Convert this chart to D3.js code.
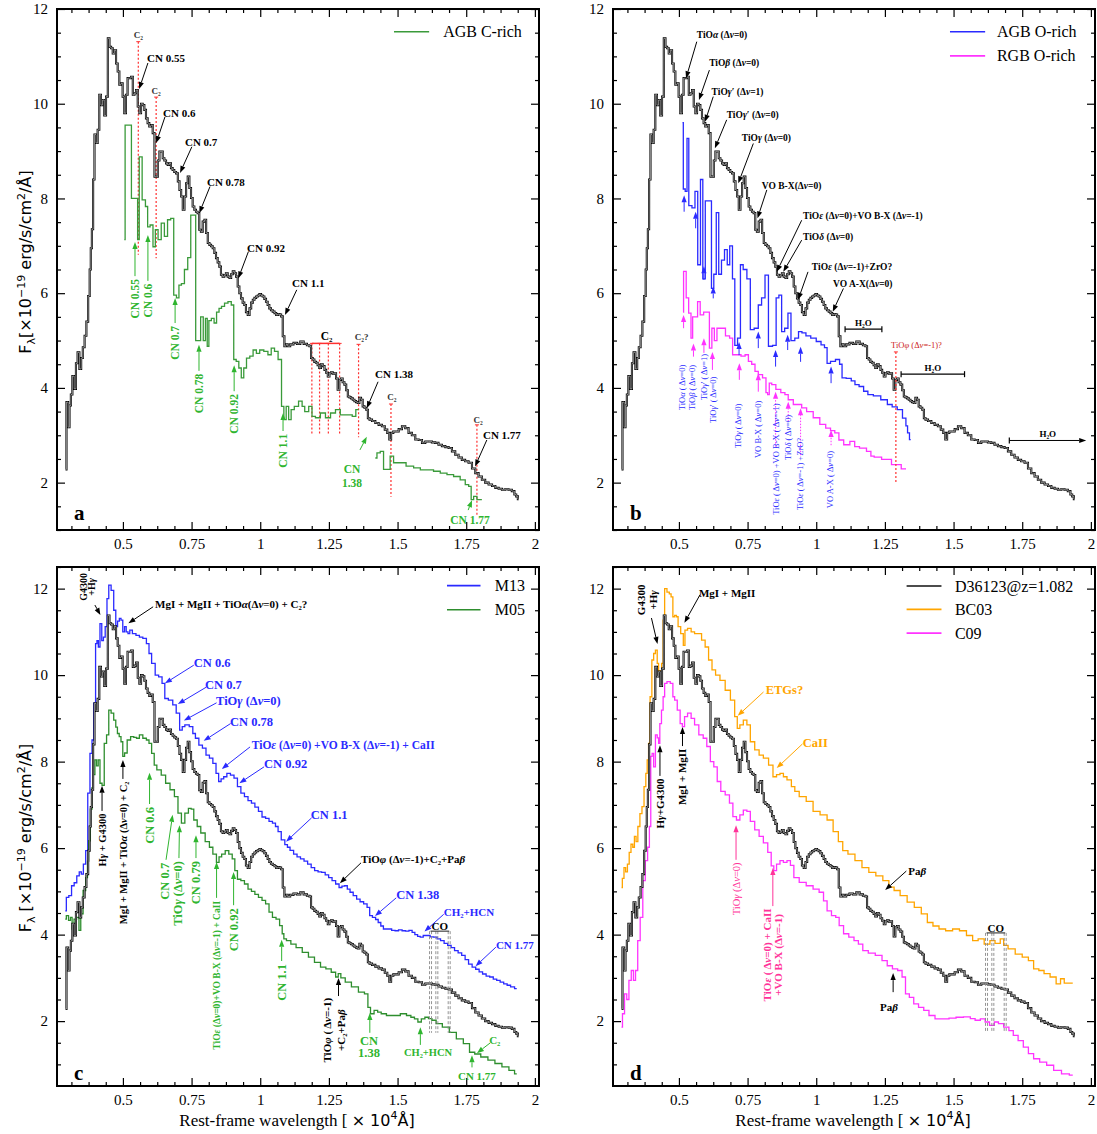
<!DOCTYPE html>
<html>
<head>
<meta charset="utf-8">
<script src="https://cdn.jsdelivr.net/npm/d3@7"></script>
<style>
  body { margin: 0; background: #fff; }
  svg { display: block; }
</style>
</head>
<body>
<script>
// Tick labels
const xTickVals = [0.5, 0.75, 1, 1.25, 1.5, 1.75, 2];
const yTickVals = [2, 4, 6, 8, 10, 12];

// Observed spectrum D36123 @ z=1.082, [wavelength (1e4 A), flux (1e-19)]
const d36123 = [[0.291,2.28],[0.298,3.7],[0.303,3.17],[0.308,3.63],[0.313,3.86],[0.319,4.25],[0.326,3.98],[0.332,4.52],[0.338,4.75],[0.345,4.4],[0.351,4.63],[0.357,4.86],[0.364,5.1],[0.370,5.4],[0.377,5.94],[0.381,6.5],[0.385,6.95],[0.389,7.35],[0.394,8.4],[0.399,9.35],[0.405,9.17],[0.411,9.45],[0.417,10.19],[0.423,9.97],[0.429,10.08],[0.435,9.75],[0.442,10.15],[0.448,11.38],[0.454,11.2],[0.460,11.17],[0.466,11.06],[0.472,11.13],[0.478,10.85],[0.484,10.68],[0.490,10.4],[0.496,10.43],[0.502,10.15],[0.508,9.8],[0.514,10.19],[0.520,10.54],[0.527,10.54],[0.533,10.57],[0.539,10.19],[0.545,10.22],[0.551,10.29],[0.557,9.94],[0.563,9.8],[0.569,10.0],[0.575,9.97],[0.581,9.87],[0.587,9.69],[0.593,9.59],[0.599,9.52],[0.605,9.55],[0.612,9.38],[0.618,8.46],[0.624,8.46],[0.630,8.8],[0.636,8.99],[0.642,8.99],[0.648,8.85],[0.654,8.8],[0.660,8.74],[0.666,8.71],[0.672,8.74],[0.678,8.64],[0.684,8.6],[0.690,8.56],[0.697,8.53],[0.703,8.36],[0.709,8.18],[0.715,8.04],[0.721,7.76],[0.727,8.04],[0.733,8.32],[0.739,8.46],[0.745,8.22],[0.751,8.01],[0.757,7.83],[0.763,7.76],[0.769,7.72],[0.775,7.69],[0.781,7.34],[0.787,7.3],[0.794,7.51],[0.800,7.55],[0.806,7.27],[0.812,7.06],[0.818,7.02],[0.824,6.99],[0.830,6.95],[0.836,6.85],[0.842,6.74],[0.848,6.65],[0.854,6.56],[0.860,6.39],[0.866,6.35],[0.872,6.38],[0.878,6.42],[0.885,6.35],[0.891,6.32],[0.897,6.4],[0.903,6.46],[0.909,6.42],[0.915,6.35],[0.921,6.14],[0.927,6.0],[0.933,5.89],[0.939,5.8],[0.945,5.75],[0.951,5.6],[0.958,5.54],[0.964,5.68],[0.970,5.8],[0.976,5.86],[0.982,5.9],[0.988,5.93],[0.994,5.95],[1.000,5.98],[1.006,5.95],[1.012,5.93],[1.018,5.88],[1.024,5.82],[1.030,5.75],[1.036,5.68],[1.042,5.64],[1.049,5.61],[1.055,5.58],[1.061,5.54],[1.067,5.56],[1.073,5.55],[1.079,5.51],[1.085,5.09],[1.091,4.88],[1.097,4.92],[1.103,4.88],[1.115,4.92],[1.127,4.95],[1.140,4.93],[1.152,4.98],[1.164,4.93],[1.176,4.9],[1.182,4.88],[1.188,4.63],[1.194,4.6],[1.200,4.55],[1.206,4.53],[1.212,4.48],[1.218,4.42],[1.224,4.5],[1.231,4.46],[1.237,4.38],[1.243,4.32],[1.249,4.24],[1.255,4.31],[1.261,4.33],[1.267,4.3],[1.273,4.31],[1.279,4.2],[1.285,3.96],[1.291,4.17],[1.297,4.2],[1.303,4.12],[1.310,4.07],[1.316,3.95],[1.322,3.82],[1.328,3.8],[1.334,3.78],[1.340,3.75],[1.346,3.72],[1.352,3.7],[1.358,3.68],[1.364,3.79],[1.370,3.75],[1.376,3.61],[1.383,3.58],[1.389,3.54],[1.395,3.36],[1.401,3.33],[1.413,3.3],[1.425,3.26],[1.437,3.22],[1.449,3.19],[1.458,3.12],[1.467,3.05],[1.473,2.91],[1.480,3.05],[1.489,3.08],[1.498,3.08],[1.510,3.13],[1.522,3.19],[1.534,3.15],[1.546,3.05],[1.558,3.0],[1.571,2.91],[1.583,2.9],[1.595,2.84],[1.607,2.87],[1.619,2.87],[1.631,2.85],[1.643,2.84],[1.655,2.8],[1.668,2.77],[1.680,2.75],[1.692,2.73],[1.704,2.66],[1.716,2.59],[1.728,2.53],[1.740,2.48],[1.752,2.45],[1.765,2.42],[1.777,2.3],[1.789,2.2],[1.801,2.13],[1.813,2.06],[1.825,2.0],[1.838,1.96],[1.850,1.93],[1.862,1.89],[1.874,1.87],[1.886,1.85],[1.898,1.86],[1.910,1.85],[1.922,1.82],[1.929,1.75],[1.935,1.71],[1.941,1.65]];

// AGB C-rich template (two pieces)
const agbCrich1 = [[0.505,7.13],[0.511,9.55],[0.551,8.0],[0.556,7.13],[0.563,8.88],[0.577,7.97],[0.587,7.83],[0.593,7.4],[0.605,7.44],[0.614,6.98],[0.622,7.34],[0.634,7.13],[0.645,7.48],[0.657,7.2],[0.668,7.55],[0.680,7.58],[0.690,5.96],[0.700,5.9],[0.708,6.17],[0.718,6.2],[0.730,6.5],[0.742,6.75],[0.752,7.65],[0.778,5.0],[0.788,5.5],[0.797,5.0],[0.804,5.47],[0.810,4.88],[0.816,5.42],[0.828,5.47],[0.836,5.37],[0.846,5.6],[0.854,5.68],[0.864,5.72],[0.876,5.79],[0.889,5.82],[0.900,5.75],[0.907,4.6],[0.918,4.56],[0.926,4.42],[0.936,4.21],[0.944,4.42],[0.956,4.63],[0.968,4.67],[0.980,4.8],[0.992,4.73],[1.004,4.8],[1.022,4.77],[1.034,4.7],[1.046,4.84],[1.058,4.77],[1.072,4.6],[1.083,3.61],[1.089,3.33],[1.100,3.61],[1.107,3.33],[1.118,3.54],[1.130,3.61],[1.149,3.72],[1.156,3.61],[1.168,3.5],[1.185,3.61],[1.192,3.4],[1.210,3.37],[1.228,3.47],[1.247,3.37],[1.265,3.47],[1.283,3.54],[1.300,3.43],[1.326,3.43],[1.344,3.4],[1.352,3.54],[1.358,3.54]];
const agbCrich2 = [[1.419,2.52],[1.431,2.63],[1.443,2.66],[1.455,2.28],[1.467,2.28],[1.479,2.56],[1.492,2.42],[1.516,2.42],[1.546,2.35],[1.571,2.31],[1.595,2.27],[1.619,2.27],[1.643,2.24],[1.668,2.2],[1.692,2.17],[1.716,2.13],[1.740,2.06],[1.753,1.96],[1.765,1.92],[1.771,1.64],[1.783,1.71],[1.795,1.64],[1.807,1.64]];

// AGB O-rich and RGB O-rich templates
const agbOrich = [[0.513,9.6],[0.519,8.2],[0.527,8.15],[0.532,9.27],[0.540,7.85],[0.555,7.8],[0.562,8.15],[0.575,6.6],[0.582,8.4],[0.592,6.3],[0.600,7.95],[0.615,7.95],[0.622,6.1],[0.632,6.4],[0.640,7.7],[0.650,6.4],[0.660,6.7],[0.672,6.92],[0.680,6.6],[0.690,7.0],[0.700,6.3],[0.707,4.9],[0.720,5.05],[0.728,6.6],[0.740,6.5],[0.755,6.3],[0.765,5.23],[0.783,5.26],[0.795,5.75],[0.807,5.9],[0.820,6.38],[0.832,4.88],[0.850,4.9],[0.858,5.9],[0.870,5.96],[0.878,5.19],[0.892,5.26],[0.902,5.58],[0.914,5.0],[0.930,5.05],[0.941,5.19],[0.955,5.16],[0.970,5.1],[0.990,5.05],[1.010,4.98],[1.025,4.91],[1.035,4.85],[1.044,4.52],[1.060,4.56],[1.080,4.6],[1.090,4.5],[1.098,4.21],[1.120,4.2],[1.135,4.15],[1.147,4.07],[1.165,4.03],[1.180,3.93],[1.196,3.86],[1.220,3.83],[1.250,3.75],[1.268,3.65],[1.285,3.6],[1.305,3.54],[1.323,3.36],[1.330,3.2],[1.335,3.05],[1.344,2.91]];
const rgbOrich = [[0.515,5.6],[0.519,6.46],[0.523,6.46],[0.530,5.9],[0.541,5.58],[0.547,5.05],[0.553,5.5],[0.565,5.5],[0.571,5.82],[0.584,5.54],[0.596,5.6],[0.608,5.6],[0.614,4.84],[0.626,5.26],[0.632,5.0],[0.645,5.26],[0.662,5.26],[0.677,5.1],[0.692,5.05],[0.699,4.7],[0.717,4.7],[0.735,4.67],[0.747,4.7],[0.759,4.56],[0.771,4.5],[0.783,4.35],[0.795,4.28],[0.814,4.21],[0.820,3.9],[0.826,3.86],[0.832,4.1],[0.844,4.07],[0.862,3.97],[0.880,3.9],[0.892,3.86],[0.904,3.75],[0.929,3.65],[0.941,3.65],[0.953,3.58],[0.977,3.5],[1.001,3.37],[1.025,3.23],[1.044,3.15],[1.060,3.1],[1.075,3.05],[1.090,2.9],[1.110,2.8],[1.135,2.87],[1.145,2.76],[1.170,2.73],[1.196,2.66],[1.202,2.56],[1.220,2.54],[1.256,2.49],[1.292,2.38],[1.327,2.29]];

// M13 and M05 models
const m13 = [[0.290,4.55],[0.298,4.86],[0.308,4.9],[0.318,5.13],[0.327,5.2],[0.337,5.36],[0.345,5.45],[0.352,5.4],[0.360,5.63],[0.369,5.94],[0.375,7.27],[0.385,8.19],[0.390,8.5],[0.398,9.35],[0.403,10.73],[0.408,10.8],[0.413,10.65],[0.420,11.19],[0.426,10.8],[0.432,10.88],[0.439,11.12],[0.445,11.77],[0.452,12.08],[0.462,11.96],[0.471,11.5],[0.477,11.12],[0.484,11.25],[0.490,11.31],[0.496,11.27],[0.503,11.0],[0.509,11.12],[0.515,11.0],[0.522,10.96],[0.528,11.04],[0.541,10.96],[0.554,10.92],[0.566,10.88],[0.579,10.85],[0.592,10.73],[0.598,10.5],[0.611,10.27],[0.624,10.0],[0.636,9.96],[0.649,9.81],[0.656,9.46],[0.675,9.42],[0.688,9.31],[0.700,9.12],[0.713,8.73],[0.719,8.81],[0.732,8.85],[0.751,8.81],[0.758,8.65],[0.770,8.54],[0.783,8.38],[0.796,8.31],[0.809,8.15],[0.821,8.08],[0.834,7.96],[0.844,7.73],[0.853,7.54],[0.862,7.6],[0.872,7.65],[0.885,7.73],[0.898,7.69],[0.911,7.62],[0.923,7.42],[0.936,7.27],[0.949,7.19],[0.962,7.1],[0.974,7.04],[0.987,6.95],[1.000,6.85],[1.013,6.72],[1.026,6.69],[1.038,6.62],[1.051,6.58],[1.060,6.5],[1.070,6.38],[1.083,6.19],[1.096,6.08],[1.102,6.02],[1.115,5.95],[1.128,5.86],[1.140,5.8],[1.153,5.75],[1.166,5.7],[1.179,5.63],[1.192,5.55],[1.204,5.48],[1.217,5.45],[1.230,5.44],[1.243,5.38],[1.255,5.32],[1.268,5.25],[1.281,5.17],[1.293,5.09],[1.302,5.12],[1.312,5.13],[1.322,5.05],[1.332,4.98],[1.345,4.9],[1.357,4.82],[1.370,4.76],[1.383,4.71],[1.395,4.63],[1.402,4.44],[1.415,4.4],[1.425,4.35],[1.434,4.28],[1.444,4.2],[1.453,4.13],[1.472,4.13],[1.485,4.1],[1.497,4.09],[1.510,4.11],[1.523,4.09],[1.535,4.08],[1.548,4.1],[1.558,4.05],[1.568,4.0],[1.578,3.96],[1.587,3.94],[1.600,3.98],[1.612,3.98],[1.625,3.95],[1.638,3.94],[1.650,3.9],[1.663,3.86],[1.676,3.8],[1.689,3.75],[1.701,3.7],[1.714,3.63],[1.727,3.58],[1.740,3.52],[1.752,3.42],[1.765,3.32],[1.778,3.25],[1.791,3.2],[1.803,3.14],[1.816,3.09],[1.829,3.04],[1.842,3.02],[1.855,2.97],[1.867,2.94],[1.880,2.9],[1.893,2.86],[1.905,2.83],[1.918,2.79],[1.934,2.75]];
const m05 = [[0.290,4.36],[0.298,4.44],[0.306,4.33],[0.312,4.4],[0.318,4.13],[0.326,4.36],[0.337,4.4],[0.343,4.1],[0.350,4.48],[0.360,5.02],[0.369,5.32],[0.373,5.7],[0.378,6.17],[0.385,6.9],[0.390,7.4],[0.395,7.7],[0.401,8.04],[0.407,7.9],[0.413,8.04],[0.420,7.5],[0.428,7.45],[0.436,8.42],[0.445,8.62],[0.452,9.19],[0.462,9.12],[0.471,8.96],[0.477,8.8],[0.483,8.65],[0.490,8.58],[0.496,8.46],[0.503,8.12],[0.509,8.2],[0.522,8.5],[0.534,8.58],[0.545,8.56],[0.554,8.54],[0.566,8.62],[0.579,8.54],[0.592,8.5],[0.598,8.42],[0.611,8.19],[0.617,7.92],[0.630,7.81],[0.649,7.69],[0.662,7.5],[0.681,7.35],[0.694,7.19],[0.707,6.81],[0.719,6.58],[0.732,6.81],[0.745,6.92],[0.752,6.9],[0.764,6.65],[0.777,6.5],[0.790,6.35],[0.809,6.15],[0.821,6.02],[0.834,5.86],[0.847,5.67],[0.853,5.8],[0.866,5.86],[0.879,5.94],[0.892,5.86],[0.904,5.75],[0.911,5.48],[0.923,5.28],[0.936,5.25],[0.949,5.17],[0.962,5.05],[0.974,5.0],[0.987,4.93],[1.000,4.86],[1.013,4.79],[1.026,4.71],[1.038,4.52],[1.051,4.4],[1.064,4.36],[1.077,4.21],[1.083,4.02],[1.089,3.9],[1.102,3.86],[1.121,3.78],[1.140,3.7],[1.166,3.59],[1.185,3.48],[1.210,3.36],[1.229,3.25],[1.249,3.21],[1.268,3.13],[1.281,3.02],[1.287,3.1],[1.300,3.0],[1.319,2.9],[1.345,2.79],[1.370,2.67],[1.389,2.63],[1.395,2.32],[1.408,2.17],[1.421,2.25],[1.434,2.21],[1.447,2.17],[1.472,2.13],[1.497,2.13],[1.523,2.17],[1.542,2.13],[1.555,2.09],[1.568,2.05],[1.580,1.98],[1.593,2.05],[1.606,2.09],[1.619,2.06],[1.631,2.02],[1.650,1.94],[1.676,1.86],[1.701,1.74],[1.727,1.59],[1.752,1.48],[1.772,1.28],[1.790,1.24],[1.816,1.17],[1.842,1.1],[1.867,1.02],[1.893,0.94],[1.918,0.86],[1.934,0.78]];

// BC03 and C09 models
const bc03 = [[0.291,5.09],[0.297,5.3],[0.303,5.55],[0.309,5.45],[0.316,5.63],[0.322,5.9],[0.329,6.09],[0.335,6.02],[0.341,6.27],[0.347,6.15],[0.354,6.5],[0.362,6.8],[0.369,6.96],[0.377,7.42],[0.382,7.73],[0.387,8.04],[0.392,8.42],[0.398,9.5],[0.405,10.35],[0.411,10.5],[0.418,10.58],[0.424,10.27],[0.428,10.0],[0.434,10.1],[0.440,10.27],[0.445,11.27],[0.451,12.0],[0.462,11.92],[0.468,11.88],[0.475,11.81],[0.481,11.35],[0.488,11.38],[0.494,11.35],[0.500,11.12],[0.513,10.96],[0.519,10.69],[0.525,11.04],[0.538,11.08],[0.551,11.0],[0.563,10.96],[0.576,10.96],[0.589,10.81],[0.602,10.65],[0.614,10.35],[0.627,10.12],[0.640,10.0],[0.659,9.88],[0.678,9.65],[0.697,9.42],[0.709,9.04],[0.716,8.77],[0.728,8.85],[0.741,8.96],[0.754,8.85],[0.766,8.46],[0.786,8.27],[0.798,8.15],[0.817,8.08],[0.836,7.92],[0.849,7.65],[0.862,7.7],[0.874,7.73],[0.887,7.65],[0.900,7.58],[0.919,7.42],[0.925,7.31],[0.951,7.19],[0.976,7.08],[1.001,6.85],[1.027,6.77],[1.052,6.65],[1.071,6.38],[1.090,6.15],[1.103,5.94],[1.128,5.86],[1.154,5.71],[1.179,5.55],[1.204,5.44],[1.230,5.36],[1.255,5.25],[1.274,5.1],[1.293,5.02],[1.318,4.9],[1.344,4.75],[1.370,4.63],[1.395,4.48],[1.414,4.28],[1.436,4.2],[1.458,4.13],[1.484,4.09],[1.509,4.13],[1.534,4.09],[1.560,3.98],[1.579,3.86],[1.600,3.9],[1.623,3.78],[1.642,3.86],[1.660,3.8],[1.680,3.9],[1.685,3.75],[1.712,3.67],[1.737,3.55],[1.763,3.48],[1.782,3.4],[1.801,3.21],[1.820,3.17],[1.839,3.1],[1.864,3.02],[1.883,2.86],[1.896,2.98],[1.910,2.88],[1.934,2.88]];
const c09 = [[0.291,1.86],[0.298,2.17],[0.306,2.63],[0.314,2.5],[0.322,2.94],[0.331,3.17],[0.338,2.94],[0.346,3.17],[0.354,3.86],[0.364,4.4],[0.373,5.25],[0.382,5.71],[0.390,6.02],[0.395,6.5],[0.400,8.12],[0.405,8.19],[0.411,7.88],[0.418,8.62],[0.424,8.55],[0.428,8.42],[0.433,8.88],[0.440,9.19],[0.445,9.5],[0.451,9.81],[0.462,9.85],[0.475,9.81],[0.481,9.5],[0.488,9.42],[0.500,9.19],[0.509,8.88],[0.516,8.81],[0.525,9.04],[0.538,9.12],[0.551,9.0],[0.563,8.85],[0.582,8.62],[0.595,8.54],[0.608,8.35],[0.621,8.0],[0.633,7.88],[0.646,7.54],[0.659,7.31],[0.678,7.23],[0.690,7.04],[0.703,6.73],[0.716,6.65],[0.728,6.77],[0.741,6.88],[0.754,6.85],[0.766,6.62],[0.786,6.42],[0.798,6.27],[0.817,6.12],[0.830,5.9],[0.842,5.59],[0.849,5.48],[0.862,5.63],[0.874,5.71],[0.887,5.67],[0.900,5.71],[0.912,5.6],[0.925,5.32],[0.951,5.21],[0.976,5.13],[1.001,5.05],[1.020,4.98],[1.033,4.78],[1.046,4.55],[1.065,4.44],[1.077,4.4],[1.090,4.21],[1.109,4.02],[1.128,3.94],[1.147,3.86],[1.160,3.78],[1.179,3.63],[1.200,3.57],[1.230,3.52],[1.249,3.4],[1.268,3.28],[1.287,3.21],[1.306,3.17],[1.319,3.02],[1.331,2.63],[1.347,2.55],[1.363,2.4],[1.382,2.32],[1.401,2.25],[1.420,2.13],[1.445,2.05],[1.471,2.05],[1.496,2.07],[1.522,2.09],[1.550,2.1],[1.572,2.06],[1.585,2.02],[1.610,2.05],[1.620,1.98],[1.642,1.9],[1.655,1.98],[1.672,1.94],[1.693,1.86],[1.710,1.78],[1.725,1.67],[1.745,1.55],[1.763,1.4],[1.782,1.25],[1.801,1.13],[1.826,1.05],[1.852,0.98],[1.877,0.86],[1.909,0.78],[1.934,0.75]];

// Annotations: [text, textX, textY, arrowX1, arrowY1, arrowX2, arrowY2] in data units
const aBlackNotes = [
  ['CN 0.55', 0.588, 10.97, 0.591, 10.86, 0.559, 10.31],
  ['CN 0.6', 0.646, 9.80, 0.653, 9.72, 0.621, 9.17],
  ['CN 0.7', 0.726, 9.19, 0.751, 9.09, 0.708, 8.54],
  ['CN 0.78', 0.806, 8.35, 0.817, 8.25, 0.778, 7.69],
  ['CN 0.92', 0.952, 6.95, 0.957, 6.88, 0.920, 6.31],
  ['CN 1.1', 1.116, 6.21, 1.133, 6.07, 1.090, 5.54],
  ['CN 1.38', 1.418, 4.29, 1.429, 4.13, 1.388, 3.57],
  ['CN 1.77', 1.811, 3.00, 1.825, 2.90, 1.782, 2.34]
];
// vertical labels: [text, x, arrowFrom, arrowTip]
const aGreenNotes = [
  ['CN 0.55', 0.544, 6.36, 7.08],
  ['CN 0.6', 0.591, 6.26, 7.23],
  ['CN 0.7', 0.690, 5.37, 5.90],
  ['CN 0.78', 0.777, 4.36, 4.91],
  ['CN 0.92', 0.905, 3.93, 4.48],
  ['CN 1.1', 1.083, 3.09, 3.47]
];
// C2 marks: [x, top, bottom]
const c2Lines = [[0.556, 11.31, 6.81], [0.621, 10.14, 6.74], [1.188, 4.94, 3.0], [1.216, 4.94, 3.0], [1.248, 4.94, 3.0], [1.289, 4.94, 3.0], [1.358, 4.92, 2.96], [1.476, 3.66, 1.70], [1.789, 3.22, 1.32]];
const c2Labels = [['C₂', 0.556, 11.45], ['C₂', 0.621, 10.28], ['C₂?', 1.369, 5.08], ['C₂', 1.479, 3.81], ['C₂', 1.793, 3.33]];

const bBlackNotes = [
  ['TiOα (Δν=0)', 0.565, 11.45, 0.565, 11.31, 0.526, 10.54],
  ['TiOβ (Δν=0)', 0.610, 10.86, 0.611, 10.71, 0.573, 10.08],
  ['TiOγ′ (Δν=1)', 0.619, 10.25, 0.625, 10.15, 0.595, 9.62],
  ['TiOγ′ (Δν=0)', 0.674, 9.76, 0.674, 9.66, 0.631, 9.06],
  ['TiOγ (Δν=0)', 0.729, 9.28, 0.771, 9.16, 0.716, 8.32],
  ['VO B-X(Δν=0)', 0.802, 8.28, 0.820, 8.18, 0.786, 7.58],
  ['TiOε (Δν=0)+VO B-X (Δν=-1)', 0.952, 7.63, 0.947, 7.54, 0.856, 6.45],
  ['TiOδ (Δν=0)', 0.952, 7.19, 0.947, 7.12, 0.880, 6.45],
  ['TiOε (Δν=-1)+ZrO?', 0.984, 6.55, 0.970, 6.45, 0.934, 5.86],
  ['VO A-X(Δν=0)', 1.061, 6.21, 1.099, 6.10, 1.060, 5.61]
];
// blue arrows: [x, from, tip]
const bBlueArrows = [[0.519, 7.72, 8.07], [0.561, 7.37, 7.72], [0.591, 6.28, 6.57], [0.625, 5.89, 6.14], [0.719, 4.69, 4.97], [0.789, 4.84, 5.19], [0.852, 4.45, 4.80], [0.896, 4.80, 5.12], [0.943, 4.55, 4.87], [1.054, 4.10, 4.45]];
// magenta arrows: [x, from, tip, dotted]
const bPinkArrows = [[0.517, 5.26, 5.54, 0], [0.553, 4.66, 4.94, 0], [0.591, 4.74, 5.05, 0], [0.622, 4.38, 4.76, 0], [0.720, 4.17, 4.52, 0], [0.789, 3.92, 4.31, 0], [0.852, 2.76, 3.92, 1], [0.898, 3.29, 3.71, 1], [0.943, 2.58, 3.57, 1], [1.054, 2.79, 3.11, 1]];
// vertical band labels: [text, x, bottom]
const bBandLabels = [
  ['TiOα ( Δν=0)', 0.511, 3.53], ['TiOβ ( Δν=0)', 0.548, 3.53], ['TiOγ′ ( Δν=1)', 0.591, 3.74],
  ['TiOγ′ ( Δν=0)', 0.624, 3.26], ['TiOγ ( Δν=0)', 0.715, 2.73], ['VO B-X ( Δν=0)', 0.788, 2.52],
  ['TiOε ( Δν=0) +VO B-X ( Δν=-1)', 0.852, 1.32], ['TiOδ ( Δν=0)', 0.897, 2.48],
  ['TiOε ( Δν=-1) +ZrO?', 0.940, 1.42], ['VO A-X ( Δν=0)', 1.050, 1.46]
];
// H2O ranges: [x1, x2, y, arrowEnd]
const h2oRanges = [[1.105, 1.239, 5.24, 0], [1.309, 1.540, 4.29, 0], [1.703, 1.983, 2.89, 1]];

const cBlueNotes = [
  ['CN 0.6', 0.758, 10.28, 0.758, 10.23, 0.653, 9.81, 12.5],
  ['CN 0.7', 0.799, 9.77, 0.803, 9.72, 0.700, 9.33, 12.5],
  ['TiOγ (Δν=0)', 0.839, 9.40, 0.841, 9.36, 0.722, 8.95, 12.5],
  ['CN 0.78', 0.890, 8.92, 0.892, 8.88, 0.794, 8.48, 12.5],
  ['TiOε (Δν=0) +VO B-X (Δν=-1) + CaII', 0.969, 8.38, 0.963, 8.34, 0.860, 7.83, 11.5],
  ['CN 0.92', 1.014, 7.95, 1.014, 7.88, 0.924, 7.50, 12.5],
  ['CN 1.1', 1.184, 6.77, 1.187, 6.70, 1.094, 6.15, 12.5],
  ['CN 1.38', 1.495, 4.92, 1.495, 4.85, 1.418, 4.43, 12.5],
  ['CH₂+HCN', 1.668, 4.52, 1.668, 4.47, 1.598, 4.07, 11],
  ['CN 1.77', 1.858, 3.76, 1.858, 3.71, 1.784, 3.27, 11]
];
const cBlackNotes = [
  ['MgI + MgII + TiOα(Δν=0) + C₂?', 0.617, 11.64, 0.610, 11.58, 0.520, 11.20],
  ['TiOφ (Δν=-1)+C₂+Paβ', 1.367, 5.75, 1.367, 5.66, 1.290, 5.19]
];
// vertical: [text, x, arrowX1, from, arrowX2, tip, fontSize]
const cGreenNotes = [
  ['CN 0.6', 0.597, 0.597, 7.02, 0.597, 7.74, 12.5],
  ['CN 0.7', 0.653, 0.657, 5.73, 0.681, 6.77, 12.5],
  ['TiOγ (Δν=0)', 0.701, 0.704, 5.77, 0.706, 6.53, 12.5],
  ['CN 0.79', 0.766, 0.766, 5.77, 0.766, 6.30, 12.5],
  ['TiOε (Δν=0)+VO B-X (Δν=-1) + CaII', 0.841, 0.841, 4.85, 0.841, 5.68, 9.5],
  ['CN 0.92', 0.903, 0.903, 4.68, 0.903, 5.45, 12.5],
  ['CN 1.1', 1.078, 1.078, 3.39, 1.078, 3.88, 12.5]
];
const coLines = [1.62, 1.643, 1.688];

const dNotes = [
  ['MgI + MgII', 0.573, 11.90, 0.577, 11.86, 0.520, 11.21, '#000'],
  ['ETGs?', 0.816, 9.66, 0.808, 9.61, 0.714, 9.06, '#ffa500'],
  ['CaII', 0.951, 8.45, 0.950, 8.41, 0.856, 7.85, '#ffa500'],
  ['Paβ', 1.335, 5.47, 1.328, 5.47, 1.251, 5.03, '#000']
];

const W = 1097, H = 1134;
const xDomain = [0.26, 2.015];
const SERIF = "'Liberation Serif','Times New Roman',serif";
const SANS = "'DejaVu Sans',sans-serif";
const boxes = {
  a: { x: 57, y: 9, w: 482, h: 521, yd: [1, 12], letterY: 1.36 },
  b: { x: 613, y: 9, w: 482, h: 521, yd: [1, 12], letterY: 1.36 },
  c: { x: 57, y: 567, w: 482, h: 519, yd: [0.5, 12.5], letterY: 0.80 },
  d: { x: 613, y: 567, w: 482, h: 519, yd: [0.5, 12.5], letterY: 0.80 }
};
const GREEN = '#3a9a3a', GREEN_TXT = '#2fb52f', BLUE = '#2a2aff', MAGENTA = '#ff33ff', ORANGE = '#ffa500', RED = '#ff3030', PINK = '#ff3399';

// Greek letters in italics
function rich(t, str) {
  str.split(/([αβγδεφνλ])/).forEach(p => {
    if (!p) return;
    const s = t.append('tspan').text(p);
    if (/^[αβγδεφνλ]$/.test(p)) s.attr('font-style', 'italic');
  });
  return t;
}

function label(P, lx, ly, str, o) {
  const px = P.x(lx), py = P.y(ly);
  const t = P.g.append('text').attr('x', px).attr('y', py).attr('dy', '0.35em')
    .attr('font-family', SERIF).attr('font-size', o.fs || 11)
    .attr('font-weight', o.bold === false ? 'normal' : 'bold')
    .attr('fill', o.color || '#000').attr('text-anchor', o.anchor || 'start');
  if (o.rotate) t.attr('transform', `rotate(-90,${px},${py})`);
  return rich(t, str);
}

function arrow(P, x1, y1, x2, y2, color, dotted) {
  const X1 = P.x(x1), Y1 = P.y(y1), X2 = P.x(x2), Y2 = P.y(y2);
  const ang = Math.atan2(Y2 - Y1, X2 - X1), L = 7, hw = 2.6;
  const bx = X2 - L * Math.cos(ang), by = Y2 - L * Math.sin(ang);
  P.g.append('line').attr('x1', X1).attr('y1', Y1).attr('x2', bx).attr('y2', by)
    .attr('stroke', color).attr('stroke-width', 1)
    .attr('stroke-dasharray', dotted ? '1.5,1.5' : null);
  P.g.append('path')
    .attr('d', `M${X2},${Y2}L${bx + hw * Math.sin(ang)},${by - hw * Math.cos(ang)}L${bx - hw * Math.sin(ang)},${by + hw * Math.cos(ang)}Z`)
    .attr('fill', color);
}

function spectrum(P, pts, color, width) {
  P.g.append('path').datum(pts)
    .attr('fill', 'none').attr('stroke', color).attr('stroke-width', width)
    .attr('stroke-linejoin', 'miter')
    .attr('d', d3.line().x(d => P.x(d[0])).y(d => P.y(d[1])).curve(d3.curveStep));
}

function observed(P) {
  spectrum(P, d36123, '#000', 2.1);
  spectrum(P, d36123, '#e0e0e0', 0.6);
}

function legend(P, items, x1, x2, xt) {
  items.forEach(([name, color, yv]) => {
    P.g.append('line').attr('x1', P.x(x1)).attr('x2', P.x(x2)).attr('y1', P.y(yv)).attr('y2', P.y(yv))
      .attr('stroke', color).attr('stroke-width', 1.6);
    P.g.append('text').attr('x', P.x(xt)).attr('y', P.y(yv)).attr('dy', '0.35em')
      .attr('font-family', SERIF).attr('font-size', 16).text(name);
  });
}

function setupPanel(svg, box, letter) {
  const g = svg.append('g').attr('transform', `translate(${box.x},${box.y})`);
  const x = d3.scaleLinear().domain(xDomain).range([0, box.w]);
  const y = d3.scaleLinear().domain(box.yd).range([box.h, 0]);
  const xMinor = d3.range(0.3125, 2.01, 0.0625).filter(v => !xTickVals.includes(v));
  const yMinor = d3.range(Math.ceil(box.yd[0]), box.yd[1] + 0.01, 0.5).filter(v => v % 2 !== 0);

  const ax = [];
  ax.push(g.append('g').attr('transform', `translate(0,${box.h})`)
    .call(d3.axisBottom(x).tickValues(xTickVals).tickSize(-8).tickPadding(8).tickFormat(d => String(d))));
  ax.push(g.append('g').attr('transform', `translate(0,${box.h})`)
    .call(d3.axisBottom(x).tickValues(xMinor).tickSize(-4).tickFormat('')));
  ax.push(g.append('g').call(d3.axisTop(x).tickValues(xTickVals).tickSize(-8).tickFormat('')));
  ax.push(g.append('g').call(d3.axisTop(x).tickValues(xMinor).tickSize(-4).tickFormat('')));
  ax.push(g.append('g').call(d3.axisLeft(y).tickValues(yTickVals).tickSize(-8).tickPadding(9).tickFormat(d => String(d))));
  ax.push(g.append('g').call(d3.axisLeft(y).tickValues(yMinor).tickSize(-4).tickFormat('')));
  ax.push(g.append('g').attr('transform', `translate(${box.w},0)`)
    .call(d3.axisRight(y).tickValues(yTickVals).tickSize(-8).tickFormat('')));
  ax.push(g.append('g').attr('transform', `translate(${box.w},0)`)
    .call(d3.axisRight(y).tickValues(yMinor).tickSize(-4).tickFormat('')));
  ax.forEach(a => {
    a.select('.domain').remove();
    a.selectAll('line').attr('stroke', '#000').attr('stroke-width', 1.2);
    a.selectAll('text').attr('font-family', SERIF).attr('font-size', 15).attr('fill', '#000');
  });

  g.append('rect').attr('width', box.w).attr('height', box.h)
    .attr('fill', 'none').attr('stroke', '#000').attr('stroke-width', 2);

  const P = { g, x, y };
  label(P, 0.322, box.letterY, letter, { fs: 21 });
  return P;
}

function yTitle(svg, cx, cy, gap) {
  const t = svg.append('text').attr('transform', `translate(${cx},${cy}) rotate(-90)`)
    .attr('text-anchor', 'middle').attr('font-family', SANS).attr('font-size', 16);
  t.append('tspan').text('F');
  t.append('tspan').attr('font-size', 11).attr('dy', 4).text('λ');
  t.append('tspan').attr('dy', -4).text((gap ? ' ' : '') + '[×10');
  t.append('tspan').attr('font-size', 11).attr('dy', -6).text('−19');
  t.append('tspan').attr('dy', 6).text(' erg/s/cm');
  t.append('tspan').attr('font-size', 11).attr('dy', -6).text('2');
  t.append('tspan').attr('dy', 6).text('/Å]');
}

function xTitle(svg, cx, cy) {
  const t = svg.append('text').attr('x', cx).attr('y', cy).attr('text-anchor', 'middle')
    .attr('font-family', SERIF).attr('font-size', 17);
  t.append('tspan').text('Rest-frame wavelength [ ');
  t.append('tspan').attr('font-family', SANS).attr('font-size', 16).text('× 10');
  t.append('tspan').attr('font-family', SANS).attr('font-size', 11).attr('dy', -7).text('4');
  t.append('tspan').attr('font-family', SANS).attr('font-size', 16).attr('dy', 7).text('Å]');
}

function coMarks(P, yTop, yBot, ty) {
  coLines.forEach(v => {
    [-1, 1].forEach(off => {
      P.g.append('line').attr('x1', P.x(v) + off).attr('x2', P.x(v) + off)
        .attr('y1', P.y(yTop)).attr('y2', P.y(yBot))
        .attr('stroke', '#888').attr('stroke-width', 0.9).attr('stroke-dasharray', '3,2');
    });
  });
  P.g.append('line').attr('x1', P.x(coLines[0])).attr('x2', P.x(coLines[2]))
    .attr('y1', P.y(yTop)).attr('y2', P.y(yTop)).attr('stroke', '#444').attr('stroke-width', 1.2);
  label(P, (coLines[0] + coLines[2]) / 2, ty, 'CO', { fs: 11, anchor: 'middle' });
}

function main() {
  const svg = d3.select('body').append('svg').attr('width', W).attr('height', H)
    .style('background', '#fff');

  // ---------- panel a ----------
  const A = setupPanel(svg, boxes.a, 'a');
  c2Lines.forEach(([v, t, b]) => {
    A.g.append('line').attr('x1', A.x(v)).attr('x2', A.x(v)).attr('y1', A.y(t)).attr('y2', A.y(b))
      .attr('stroke', RED).attr('stroke-width', 1.2).attr('stroke-dasharray', '2,2');
    A.g.append('line').attr('x1', A.x(v) - 2).attr('x2', A.x(v) + 2).attr('y1', A.y(t)).attr('y2', A.y(t))
      .attr('stroke', RED).attr('stroke-width', 1);
  });
  A.g.append('line').attr('x1', A.x(1.188)).attr('x2', A.x(1.289)).attr('y1', A.y(4.94)).attr('y2', A.y(4.94))
    .attr('stroke', RED).attr('stroke-width', 1.5);
  c2Labels.forEach(([s, v, f]) => label(A, v, f, s, { fs: 9, anchor: 'middle', color: '#333' }));
  label(A, 1.242, 5.10, 'C₂', { fs: 11.5, anchor: 'middle' });
  spectrum(A, agbCrich1, GREEN, 1.3);
  spectrum(A, agbCrich2, GREEN, 1.3);
  observed(A);
  aBlackNotes.forEach(n => {
    label(A, n[1], n[2], n[0], { fs: 11 });
    arrow(A, n[3], n[4], n[5], n[6], '#000');
  });
  aGreenNotes.forEach(([s, v, from, tip]) => {
    label(A, v, from - 0.06, s, { fs: 11.5, color: GREEN_TXT, rotate: true, anchor: 'end' });
    arrow(A, v, from, v, tip, GREEN_TXT);
  });
  label(A, 1.334, 2.28, 'CN', { fs: 11.5, color: GREEN_TXT, anchor: 'middle' });
  label(A, 1.334, 2.0, '1.38', { fs: 11.5, color: GREEN_TXT, anchor: 'middle' });
  arrow(A, 1.363, 2.69, 1.388, 2.97, GREEN_TXT);
  label(A, 1.764, 1.22, 'CN 1.77', { fs: 11.5, color: GREEN_TXT, anchor: 'middle' });
  arrow(A, 1.757, 1.42, 1.771, 1.63, GREEN_TXT);
  legend(A, [['AGB C-rich', GREEN, 11.52]], 1.487, 1.615, 1.666);

  // ---------- panel b ----------
  const B = setupPanel(svg, boxes.b, 'b');
  spectrum(B, agbOrich, BLUE, 1.3);
  spectrum(B, rgbOrich, MAGENTA, 1.3);
  observed(B);
  bBlackNotes.forEach(n => {
    label(B, n[1], n[2], n[0], { fs: 9.5 });
    arrow(B, n[3], n[4], n[5], n[6], '#000');
  });
  bBlueArrows.forEach(([v, f, t]) => arrow(B, v, f, v, t, BLUE));
  bPinkArrows.forEach(([v, f, t, dot]) => arrow(B, v, f, v, t, MAGENTA, dot));
  bBandLabels.forEach(([s, v, bot]) => label(B, v, bot, s, { fs: 8.5, bold: false, color: BLUE, rotate: true }));
  h2oRanges.forEach(([x1, x2, yv, isArrow]) => {
    if (isArrow) {
      arrow(B, x1, yv, x2, yv, '#000');
    } else {
      B.g.append('line').attr('x1', B.x(x1)).attr('x2', B.x(x2)).attr('y1', B.y(yv)).attr('y2', B.y(yv))
        .attr('stroke', '#000').attr('stroke-width', 1.2);
      B.g.append('line').attr('x1', B.x(x2)).attr('x2', B.x(x2)).attr('y1', B.y(yv) - 3).attr('y2', B.y(yv) + 3)
        .attr('stroke', '#000').attr('stroke-width', 1.2);
    }
    B.g.append('line').attr('x1', B.x(x1)).attr('x2', B.x(x1)).attr('y1', B.y(yv) - 3).attr('y2', B.y(yv) + 3)
      .attr('stroke', '#000').attr('stroke-width', 1.2);
    label(B, (x1 + x2) / 2, yv + 0.13, 'H₂O', { fs: 9, anchor: 'middle' });
  });
  B.g.append('line').attr('x1', B.x(1.29)).attr('x2', B.x(1.29)).attr('y1', B.y(4.76)).attr('y2', B.y(2.0))
    .attr('stroke', RED).attr('stroke-width', 1.2).attr('stroke-dasharray', '2,2');
  B.g.append('line').attr('x1', B.x(1.29) - 2).attr('x2', B.x(1.29) + 2).attr('y1', B.y(4.76)).attr('y2', B.y(4.76))
    .attr('stroke', RED).attr('stroke-width', 1);
  label(B, 1.365, 4.90, 'TiOφ (Δν=-1)?', { fs: 8.5, anchor: 'middle', color: '#c22', bold: false });
  legend(B, [['AGB O-rich', BLUE, 11.52], ['RGB O-rich', MAGENTA, 11.01]], 1.487, 1.615, 1.658);

  // ---------- panel c ----------
  const C = setupPanel(svg, boxes.c, 'c');
  spectrum(C, m13, BLUE, 1.3);
  spectrum(C, m05, '#2e8e2e', 1.3);
  observed(C);
  coMarks(C, 4.08, 1.73, 4.2);
  cBlueNotes.forEach(n => {
    label(C, n[1], n[2], n[0], { fs: n[7], color: BLUE });
    arrow(C, n[3], n[4], n[5], n[6], BLUE);
  });
  cBlackNotes.forEach(n => {
    label(C, n[1], n[2], n[0], { fs: 11 });
    arrow(C, n[3], n[4], n[5], n[6], '#000');
  });
  cGreenNotes.forEach(n => {
    label(C, n[1], n[3] - 0.07, n[0], { fs: n[6], color: GREEN_TXT, rotate: true, anchor: 'end' });
    arrow(C, n[2], n[3], n[4], n[5], GREEN_TXT);
  });
  label(C, 0.355, 12.04, 'G4300', { fs: 10, rotate: true, anchor: 'middle' });
  label(C, 0.387, 12.04, '+Hγ', { fs: 10, rotate: true, anchor: 'middle' });
  arrow(C, 0.398, 11.62, 0.418, 11.39, '#000');
  label(C, 0.424, 6.80, 'Hγ + G4300', { fs: 10.5, rotate: true, anchor: 'end' });
  arrow(C, 0.424, 6.86, 0.424, 7.44, '#000');
  label(C, 0.500, 7.54, 'MgI + MgII + TiOα (Δν=0) + C₂', { fs: 10.5, rotate: true, anchor: 'end' });
  arrow(C, 0.500, 7.6, 0.500, 8.04, '#000');
  label(C, 1.245, 1.79, 'TiOφ ( Δν=-1)', { fs: 11, rotate: true, anchor: 'middle' });
  label(C, 1.293, 1.79, '+C₂+Paβ', { fs: 11, rotate: true, anchor: 'middle' });
  arrow(C, 1.285, 2.58, 1.285, 3.0, '#000');
  label(C, 1.396, 1.56, 'CN', { fs: 12.5, color: GREEN_TXT, anchor: 'middle' });
  label(C, 1.396, 1.28, '1.38', { fs: 12.5, color: GREEN_TXT, anchor: 'middle' });
  arrow(C, 1.399, 1.73, 1.399, 2.19, GREEN_TXT);
  label(C, 1.611, 1.27, 'CH₂+HCN', { fs: 10.5, color: GREEN_TXT, anchor: 'middle' });
  arrow(C, 1.583, 1.45, 1.583, 1.86, GREEN_TXT);
  label(C, 1.854, 1.56, 'C₂', { fs: 11, color: GREEN_TXT, anchor: 'middle' });
  arrow(C, 1.838, 1.50, 1.789, 1.26, GREEN_TXT);
  label(C, 1.789, 0.72, 'CN 1.77', { fs: 11, color: GREEN_TXT, anchor: 'middle' });
  arrow(C, 1.771, 0.93, 1.771, 1.21, GREEN_TXT);
  legend(C, [['M13', BLUE, 12.07], ['M05', '#2e8e2e', 11.51]], 1.680, 1.802, 1.854);

  // ---------- panel d ----------
  const D = setupPanel(svg, boxes.d, 'd');
  spectrum(D, bc03, ORANGE, 1.3);
  spectrum(D, c09, MAGENTA, 1.3);
  observed(D);
  coMarks(D, 4.04, 1.73, 4.16);
  dNotes.forEach(n => {
    label(D, n[1], n[2], n[0], { fs: n[7] === '#000' ? 11 : 12.5, color: n[7] });
    arrow(D, n[3], n[4], n[5], n[6], n[7]);
  });
  label(D, 0.364, 11.74, 'G4300', { fs: 11, rotate: true, anchor: 'middle' });
  label(D, 0.406, 11.74, '+Hγ', { fs: 11, rotate: true, anchor: 'middle' });
  arrow(D, 0.400, 11.32, 0.422, 10.72, '#000');
  label(D, 0.431, 7.61, 'Hγ+G4300', { fs: 11, rotate: true, anchor: 'end' });
  arrow(D, 0.431, 7.67, 0.431, 8.38, '#000');
  label(D, 0.513, 8.30, 'MgI + MgII', { fs: 11, rotate: true, anchor: 'end' });
  arrow(D, 0.513, 8.36, 0.513, 8.80, '#000');
  label(D, 0.708, 5.67, 'TiOγ (Δν=0)', { fs: 10.5, rotate: true, anchor: 'end', color: PINK, bold: false });
  arrow(D, 0.708, 5.73, 0.708, 6.53, PINK);
  label(D, 0.821, 3.53, 'TiOε ( Δν=0)  + CaII', { fs: 11, rotate: true, anchor: 'middle', color: PINK });
  label(D, 0.863, 3.53, '+VO B-X (Δν=-1)', { fs: 11, rotate: true, anchor: 'middle', color: PINK });
  arrow(D, 0.842, 4.66, 0.842, 5.54, PINK);
  label(D, 1.232, 2.33, 'Paβ', { fs: 11 });
  arrow(D, 1.280, 2.67, 1.280, 3.11, '#000');
  legend(D, [['D36123@z=1.082', '#111', 12.06], ['BC03', ORANGE, 11.52], ['C09', MAGENTA, 10.97]], 1.329, 1.456, 1.505);

  // axis titles
  yTitle(svg, 31, 262, false);
  yTitle(svg, 31, 838, true);
  xTitle(svg, 297, 1126);
  xTitle(svg, 853, 1126);
}

main();
</script>
</body>
</html>
